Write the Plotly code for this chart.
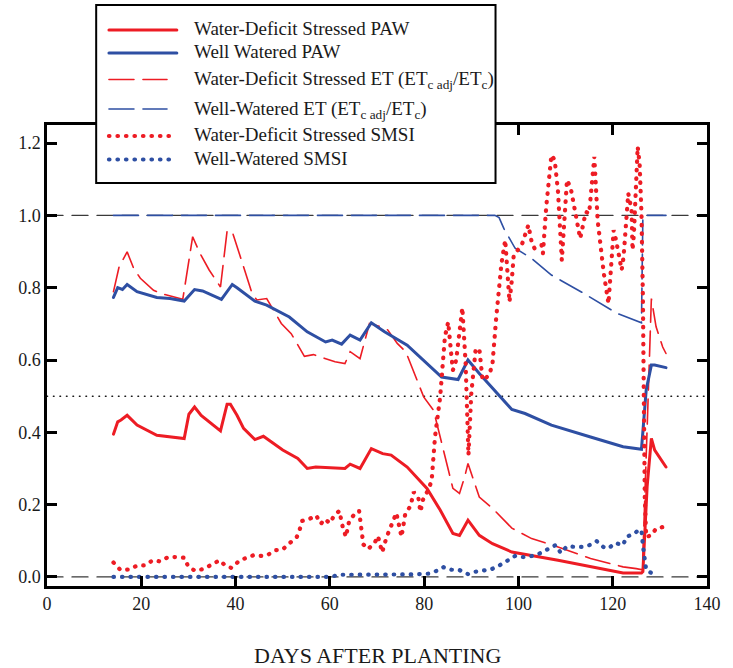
import plotly.graph_objects as go

RED = "#ED1C24"
BLUE = "#2E4FA3"
SERIF = "Liberation Serif"

# ---- plant-available water (PAW) ----
wd_paw_day = [14.1, 15.0, 15.7, 17.0, 19.1, 23.3, 29.1, 30.1, 31.3, 32.7, 36.8, 38.2, 38.9,
              40.3, 41.7, 44.1, 45.9, 50.0, 53.2, 55.2, 57.0, 63.2, 64.3, 66.4, 68.8, 71.2,
              73.0, 76.4, 80.6, 83.4, 86.1, 87.5, 89.3, 91.7, 94.5, 98.6, 108.4, 115.3,
              122.2, 126.1, 126.4, 127.3, 128.2, 128.9, 131.3]
wd_paw = [0.395, 0.429, 0.434, 0.447, 0.420, 0.392, 0.383, 0.450, 0.470, 0.447, 0.404, 0.478,
          0.478, 0.447, 0.411, 0.380, 0.389, 0.351, 0.328, 0.300, 0.304, 0.300, 0.312, 0.300,
          0.355, 0.341, 0.337, 0.304, 0.245, 0.185, 0.120, 0.115, 0.157, 0.115, 0.092, 0.069,
          0.046, 0.028, 0.011, 0.011, 0.015, 0.250, 0.383, 0.351, 0.304]

ww_paw_day = [14.1, 15.0, 16.0, 17.0, 19.1, 23.3, 26.1, 29.1, 31.3, 33.0, 37.0, 39.3, 40.3,
              44.1, 46.6, 51.4, 55.2, 59.1, 60.5, 62.5, 64.3, 66.4, 68.8, 71.6, 76.4, 79.9,
              83.7, 87.2, 89.3, 91.7, 94.5, 98.6, 101.4, 107.0, 115.3, 122.2, 126.1, 126.8,
              127.1, 128.2, 128.9, 131.3]
ww_paw = [0.773, 0.800, 0.795, 0.809, 0.789, 0.773, 0.770, 0.763, 0.795, 0.791, 0.768, 0.809,
          0.800, 0.763, 0.752, 0.719, 0.678, 0.650, 0.655, 0.644, 0.669, 0.655, 0.703, 0.678,
          0.641, 0.600, 0.553, 0.546, 0.600, 0.563, 0.522, 0.463, 0.452, 0.420, 0.387, 0.360,
          0.353, 0.461, 0.517, 0.586, 0.586, 0.579]

# ---- ET ratio (ETc adj / ETc) ----
wd_et_day = [14.1, 15.3, 17.0, 18.4, 19.8, 22.6, 24.7, 28.8, 30.9, 32.3, 34.4, 36.8, 38.2,
             39.3, 41.4, 43.5, 44.5, 46.6, 49.7, 51.8, 54.6, 56.5, 61.1, 63.2, 64.3, 66.4,
             68.4, 70.9, 72.3, 74.3, 76.1, 78.2, 79.9, 82.0, 83.4, 85.5, 86.1, 87.5, 88.6,
             89.3, 91.7, 94.5, 98.6, 102.8, 108.4, 115.3, 122.2, 125.0, 126.3, 127.4, 128.2,
             129.2, 130.6, 131.3]
wd_et = [0.789, 0.858, 0.899, 0.853, 0.826, 0.793, 0.782, 0.768, 0.941, 0.899, 0.849, 0.802,
         0.957, 0.955, 0.870, 0.784, 0.766, 0.770, 0.701, 0.673, 0.610, 0.615, 0.595, 0.590,
         0.623, 0.604, 0.701, 0.692, 0.683, 0.646, 0.623, 0.553, 0.498, 0.461, 0.387, 0.277,
         0.245, 0.231, 0.277, 0.314, 0.221, 0.190, 0.135, 0.106, 0.083, 0.051, 0.028, 0.023,
         0.020, 0.450, 0.770, 0.692, 0.636, 0.618]

ww_et_day = [14.1, 95.0, 95.9, 96.9, 99.3, 102.8, 107.0, 113.9, 120.9, 126.1, 126.4, 131.3]
ww_et = [1.000, 1.000, 0.994, 0.964, 0.909, 0.881, 0.835, 0.784, 0.729, 0.703, 1.000, 1.000]

# ---- soil moisture stress index (SMSI) ----
wd_smsi_day = [14.1, 15.6, 17.5, 19.2, 20.8, 22.4, 24.0, 25.7, 27.4, 29.2, 29.9, 31.4, 33.2,
               34.9, 36.6, 37.8, 39.1, 40.9, 42.5, 43.8, 45.0, 46.7, 48.4, 50.0, 51.6, 53.0,
               53.6, 54.1, 55.6, 57.1, 58.1, 58.9, 60.0, 60.7, 62.0, 62.7, 63.4, 64.1, 65.3,
               66.2, 67.1, 68.1, 69.5, 70.2, 71.1, 72.0, 74.1, 75.2, 76.0, 77.1, 77.8, 78.8,
               79.2, 79.9, 80.9, 81.6, 82.3, 83.4, 84.4, 85.1, 85.8, 86.1, 86.8, 87.9, 88.1,
               88.8, 89.4, 90.0, 90.9, 91.7, 92.4, 93.8, 94.5, 95.3, 96.4, 97.2, 98.1, 98.6,
               99.0, 100.7, 101.8, 102.1, 102.8, 103.4, 104.9, 105.2, 105.9, 107.0, 107.7,
               108.4, 109.2, 109.9, 110.3, 111.1, 112.2, 113.1, 114.3, 115.0, 116.1, 116.8,
               118.1, 119.1, 120.2, 120.7, 121.9, 122.3, 123.3, 124.0, 124.2, 124.5, 125.3,
               125.7, 126.1, 126.4, 126.8, 127.1, 128.2, 129.2, 130.6]
wd_smsi = [0.040, 0.019, 0.021, 0.032, 0.032, 0.046, 0.043, 0.055, 0.055, 0.053, 0.030, 0.017,
           0.022, 0.034, 0.046, 0.032, 0.025, 0.046, 0.055, 0.060, 0.058, 0.060, 0.074, 0.076,
           0.095, 0.111, 0.131, 0.155, 0.160, 0.170, 0.147, 0.160, 0.149, 0.165, 0.183, 0.140,
           0.111, 0.155, 0.175, 0.183, 0.090, 0.077, 0.094, 0.113, 0.068, 0.109, 0.177, 0.111,
           0.175, 0.196, 0.235, 0.217, 0.180, 0.221, 0.240, 0.268, 0.387, 0.498, 0.664, 0.705,
           0.609, 0.572, 0.600, 0.719, 0.745, 0.590, 0.337, 0.507, 0.627, 0.632, 0.544, 0.558,
           0.590, 0.719, 0.867, 0.932, 0.761, 0.821, 0.890, 0.918, 0.959, 0.973, 0.927, 0.909,
           0.918, 0.895, 1.024, 1.167, 1.153, 1.065, 0.876, 1.051, 1.098, 1.075, 1.005, 0.936,
           1.010, 1.005, 1.162, 0.987, 0.840, 0.756, 0.959, 0.932, 0.849, 0.885, 1.061, 1.015,
           0.904, 0.950, 1.190, 1.144, 1.005, 0.775, 0.221, 0.111, 0.115, 0.134, 0.138]

ww_smsi_day = [14.1, 60.0, 62.0, 70.0, 77.0, 80.9, 82.7, 84.1, 85.8, 87.5, 89.3, 90.7, 92.4,
               94.2, 96.1, 97.8, 99.3, 101.0, 102.8, 104.5, 106.2, 107.9, 109.0, 110.3, 112.1,
               113.7, 115.3, 116.6, 118.0, 119.1, 120.5, 122.2, 122.9, 124.6, 125.6, 126.1,
               126.4, 126.8, 127.1, 128.2, 129.7]
ww_smsi = [0.000, 0.000, 0.006, 0.006, 0.007, 0.009, 0.017, 0.027, 0.020, 0.019, 0.008, 0.014,
           0.017, 0.021, 0.033, 0.046, 0.058, 0.055, 0.058, 0.065, 0.076, 0.088, 0.066, 0.085,
           0.083, 0.083, 0.089, 0.099, 0.083, 0.079, 0.094, 0.088, 0.111, 0.120, 0.131, 0.129,
           0.088, 0.037, 0.019, 0.011, 0.011]

# reference levels across the whole season
ref_days = [0, 140]
ref_dashed = [0.0, 1.0]
ref_dotted = 0.5

x_ticks = [0, 20, 40, 60, 80, 100, 120, 140]
y_ticks = [0.0, 0.2, 0.4, 0.6, 0.8, 1.0, 1.2]

ET_DASH = "25px,9px"
DOT_DASH = "0.5px,8px"

fig = go.Figure()

for lvl in ref_dashed:
    fig.add_trace(go.Scatter(x=ref_days, y=[lvl, lvl], mode="lines",
                             line=dict(color="#3a3a3a", width=1.3, dash="16px,9px"),
                             hoverinfo="skip"))
fig.add_trace(go.Scatter(x=ref_days, y=[ref_dotted, ref_dotted], mode="lines",
                         line=dict(color="#111", width=1.6, dash="0.5px,6px"),
                         hoverinfo="skip"))

fig.add_trace(go.Scatter(x=ww_et_day, y=ww_et, mode="lines",
                         line=dict(color=BLUE, width=1.6, dash=ET_DASH)))
fig.add_trace(go.Scatter(x=wd_et_day, y=wd_et, mode="lines",
                         line=dict(color=RED, width=1.6, dash=ET_DASH)))
fig.add_trace(go.Scatter(x=ww_paw_day, y=ww_paw, mode="lines",
                         line=dict(color=BLUE, width=3)))
fig.add_trace(go.Scatter(x=wd_paw_day, y=wd_paw, mode="lines",
                         line=dict(color=RED, width=3)))
fig.add_trace(go.Scatter(x=ww_smsi_day, y=ww_smsi, mode="lines",
                         line=dict(color=BLUE, width=4.2, dash=DOT_DASH)))
fig.add_trace(go.Scatter(x=wd_smsi_day, y=wd_smsi, mode="lines",
                         line=dict(color=RED, width=4.2, dash=DOT_DASH)))

# ---- legend box, drawn in pixel space of the page ----
W, H = 733, 668
ML, MR, MT, MB = 47, 15, 125, 82
PW, PH = W - ML - MR, H - MT - MB


def px(x):
    return (x - ML) / PW


def py(y):
    return (H - MB - y) / PH


shapes = [dict(type="rect", xref="paper", yref="paper",
               x0=px(97), x1=px(503), y0=py(183), y1=py(5),
               fillcolor="white", line=dict(color="black", width=2), layer="above")]

legend_rows = [
    ("Water-Deficit Stressed PAW", RED, "solid", 3, 30, 28.5),
    ("Well Watered PAW", BLUE, "solid", 3, 53, 52),
    ("Water-Deficit Stressed ET (ET<sub>c adj</sub>/ET<sub>c</sub>)", RED, ET_DASH, 1.6, 79.5, 80),
    ("Well-Watered ET (ET<sub>c adj</sub>/ET<sub>c</sub>)", BLUE, ET_DASH, 1.6, 109, 110),
    ("Water-Deficit Stressed SMSI", RED, DOT_DASH, 4.2, 136, 135),
    ("Well-Watered SMSI", BLUE, DOT_DASH, 4.2, 159.5, 158.5),
]

annotations = []
for text, color, dash, width, ly, ty in legend_rows:
    x_end = 169 if dash == ET_DASH else 179
    shapes.append(dict(type="line", xref="paper", yref="paper",
                       x0=px(110), x1=px(x_end), y0=py(ly), y1=py(ly),
                       line=dict(color=color, width=width, dash=dash), layer="above"))
    annotations.append(dict(text=text, xref="paper", yref="paper", x=px(194), y=py(ty),
                            xanchor="left", yanchor="middle", showarrow=False,
                            font=dict(family=SERIF, size=19, color="#1a1a1a")))

annotations.append(dict(text="DAYS AFTER PLANTING", xref="paper", yref="paper",
                        x=0.5, y=py(655), xanchor="center", yanchor="middle",
                        showarrow=False, font=dict(family=SERIF, size=22, color="#1a1a1a")))

axis_common = dict(showline=True, linewidth=2.5, linecolor="black", mirror="ticks",
                   ticks="inside", ticklen=10, tickwidth=2.5, tickcolor="black",
                   showgrid=False, zeroline=False,
                   tickfont=dict(family=SERIF, size=18, color="#1a1a1a"))

fig.update_layout(
    width=W, height=H,
    margin=dict(l=ML, r=MR, t=MT, b=MB, pad=0),
    paper_bgcolor="white", plot_bgcolor="white",
    showlegend=False,
    xaxis=dict(range=[0, 140], tickvals=x_ticks, **axis_common),
    yaxis=dict(range=[-0.025, 1.25], tickvals=y_ticks,
               ticktext=[f"{v:.1f}" for v in y_ticks], **axis_common),
    shapes=shapes,
    annotations=annotations,
)

round_caps = ("var s=document.createElement('style');"
              "s.textContent='.scatterlayer .js-line, .shapelayer path{stroke-linecap:round;}';"
              "document.head.appendChild(s);")

fig.write_html("out.html", post_script=round_caps)
